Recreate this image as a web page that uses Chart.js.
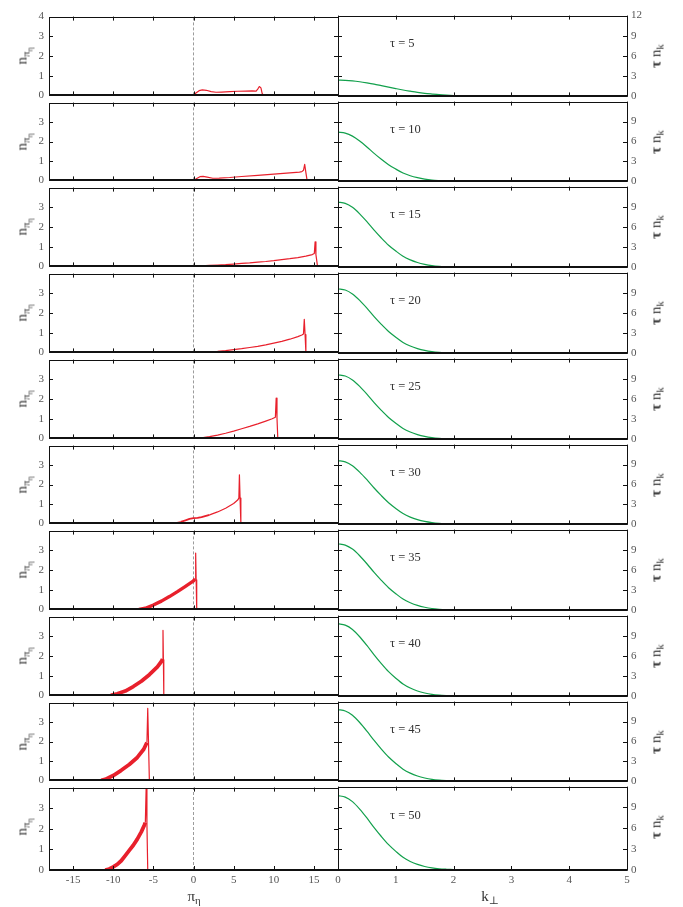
<!DOCTYPE html>
<html><head><meta charset="utf-8">
<script src="https://cdn.jsdelivr.net/npm/chart.js@4.4.0/dist/chart.umd.min.js"></script>
<style>
html,body{margin:0;padding:0;background:#fff;}
#wrap{position:relative;width:683px;height:907px;overflow:hidden;background:#fff;}
canvas{position:absolute;}
.lbl{position:absolute;font-family:"Liberation Serif","DejaVu Serif",serif;color:#333;white-space:nowrap;line-height:1;}
.rot{transform:translate(-50%,-50%) rotate(-90deg);}
.ctr{transform:translate(-50%,-50%);}
.lbl sub{font-size:72%;vertical-align:baseline;position:relative;top:0.3em;}
</style></head><body><div id="wrap"></div>
<script>
// ---------- categories / ticks ----------
const tauValues = [5, 10, 15, 20, 25, 30, 35, 40, 45, 50];
const piTicks = [-15, -10, -5, 0, 5, 10, 15];
const nTicks = [0, 1, 2, 3, 4];
const kTicks = [0, 1, 2, 3, 4, 5];
const tnTicks = [0, 3, 6, 9, 12];
const zeroLineX = 0;

// ---------- left column: n_{pi_eta} vs pi_eta (red) ----------
const pi_t5  = [0, 0.3, 0.7, 1.1, 1.6, 2.2, 2.8, 3.5, 4.5, 5.5, 6.5, 7.3, 7.8, 8.0, 8.2, 8.4, 8.55, 8.7];
const n_t5   = [0, 0.12, 0.24, 0.28, 0.26, 0.19, 0.16, 0.17, 0.19, 0.21, 0.22, 0.23, 0.22, 0.32, 0.45, 0.38, 0.1, 0];
const pi_t10 = [0, 0.4, 0.8, 1.2, 1.7, 2.4, 3.2, 4.5, 6, 8, 10, 12, 13.2, 13.5, 13.7, 13.85, 14.0, 14.15];
const n_t10  = [0, 0.1, 0.19, 0.21, 0.17, 0.11, 0.12, 0.15, 0.2, 0.26, 0.32, 0.39, 0.43, 0.45, 0.52, 0.82, 0.4, 0];
const pi_t15 = [0, 1, 2, 3, 4, 5, 6, 7, 8, 9, 10, 11, 12, 13, 14, 14.8, 15.05, 15.15, 15.25, 15.45];
const n_t15  = [0, 0.03, 0.05, 0.07, 0.09, 0.12, 0.15, 0.18, 0.22, 0.25, 0.29, 0.34, 0.39, 0.45, 0.52, 0.6, 0.66, 1.25, 0.6, 0];
const pi_t20 = [1, 2, 3, 4, 5, 6, 7, 8, 9, 10, 11, 12, 13, 13.5, 13.7, 13.8, 13.9, 14.0];
const n_t20  = [0, 0.02, 0.05, 0.09, 0.14, 0.19, 0.25, 0.31, 0.38, 0.47, 0.56, 0.67, 0.8, 0.88, 0.93, 1.68, 0.9, 0];
const pi_t25 = [0, 1, 2, 3, 4, 5, 6, 7, 8, 9, 9.8, 10.2, 10.3, 10.4, 10.5];
const n_t25  = [0, 0.03, 0.09, 0.17, 0.26, 0.37, 0.49, 0.61, 0.74, 0.88, 1.0, 1.07, 2.05, 1.05, 0];
const pi_t30 = [-2.8, -2.2, -1.6, -1.0, -0.5, 0, 0.5, 1, 2, 3, 4, 5, 5.5, 5.65, 5.72, 5.8, 5.9];
const n_t30  = [0, 0.03, 0.08, 0.16, 0.23, 0.27, 0.28, 0.32, 0.44, 0.59, 0.78, 1.02, 1.2, 1.3, 2.5, 1.3, 0];
const pi_t35 = [-6.8, -6, -5, -4, -3, -2, -1, 0, 0.2, 0.27, 0.33, 0.4];
const n_t35  = [0, 0.06, 0.22, 0.42, 0.65, 0.9, 1.17, 1.45, 1.55, 2.86, 1.5, 0];
const pi_t40 = [-10.3, -9.5, -8.5, -7.5, -6.5, -5.5, -4.5, -4.0, -3.85, -3.8, -3.75, -3.7, -2, 0, 0.05];
const n_t40  = [0, 0.08, 0.22, 0.45, 0.72, 1.05, 1.45, 1.72, 1.85, 3.3, 1.8, 0.05, 0.04, 0.03, 0];
const pi_t45 = [-11.5, -11, -10, -9, -8, -7, -6.2, -5.8, -5.7, -5.6, -5.5, -3, -0.5];
const n_t45  = [0, 0.05, 0.25, 0.52, 0.82, 1.18, 1.6, 1.95, 3.7, 1.9, 0.04, 0.02, 0];
const pi_t50 = [-11, -10.5, -10, -9.5, -9, -8.5, -8, -7.5, -7, -6.5, -6.1, -6.0, -5.9, -5.8, -5.7, -4, -3.5];
const n_t50  = [0, 0.05, 0.15, 0.27, 0.45, 0.7, 0.95, 1.2, 1.5, 1.85, 2.2, 2.3, 3.95, 2.2, 0.03, 0.02, 0];

// ---------- right column: tau n_k vs k_perp (green) ----------
const kPerp = [0, 0.125, 0.25, 0.375, 0.5, 0.625, 0.75, 0.875, 1, 1.125, 1.25, 1.375, 1.5, 1.625, 1.75, 1.875, 2, 2.125, 2.25, 2.375, 2.5, 3, 4, 5];
const tn_t5  = [2.42, 2.39, 2.31, 2.18, 2.01, 1.82, 1.60, 1.38, 1.16, 0.95, 0.77, 0.60, 0.46, 0.35, 0.25, 0.18, 0.13, 0.09, 0.06, 0.04, 0.02, 0, 0, 0];
const tn_t10 = [7.40, 7.25, 6.81, 6.07, 5.18, 4.22, 3.33, 2.52, 1.85, 1.26, 0.85, 0.56, 0.35, 0.21, 0.13, 0.07, 0.04, 0.02, 0.01, 0.01, 0, 0, 0, 0];
const tn_t15 = [9.70, 9.51, 8.92, 7.95, 6.79, 5.53, 4.37, 3.30, 2.43, 1.65, 1.12, 0.73, 0.46, 0.27, 0.16, 0.10, 0.06, 0.03, 0.02, 0.01, 0, 0, 0, 0];
const tn_t20 = [9.60, 9.41, 8.83, 7.87, 6.72, 5.47, 4.32, 3.26, 2.40, 1.63, 1.10, 0.72, 0.45, 0.27, 0.16, 0.10, 0.06, 0.03, 0.02, 0.01, 0, 0, 0, 0];
const tn_t25 = [9.60, 9.41, 8.83, 7.87, 6.72, 5.47, 4.32, 3.26, 2.40, 1.63, 1.10, 0.72, 0.45, 0.27, 0.16, 0.10, 0.06, 0.03, 0.02, 0.01, 0, 0, 0, 0];
const tn_t30 = [9.60, 9.41, 8.83, 7.87, 6.72, 5.47, 4.32, 3.26, 2.40, 1.63, 1.10, 0.72, 0.45, 0.27, 0.16, 0.10, 0.06, 0.03, 0.02, 0.01, 0, 0, 0, 0];
const tn_t35 = [9.90, 9.70, 9.11, 8.12, 6.93, 5.64, 4.46, 3.37, 2.48, 1.68, 1.14, 0.74, 0.47, 0.28, 0.17, 0.10, 0.06, 0.03, 0.02, 0.01, 0, 0, 0, 0];
const tn_t40 = [10.80, 10.58, 9.94, 8.86, 7.56, 6.16, 4.86, 3.67, 2.70, 1.84, 1.24, 0.81, 0.51, 0.30, 0.18, 0.11, 0.06, 0.03, 0.02, 0.01, 0, 0, 0, 0];
const tn_t45 = [10.80, 10.58, 9.94, 8.86, 7.56, 6.16, 4.86, 3.67, 2.70, 1.84, 1.24, 0.81, 0.51, 0.30, 0.18, 0.11, 0.06, 0.03, 0.02, 0.01, 0, 0, 0, 0];
const tn_t50 = [10.70, 10.49, 9.84, 8.77, 7.49, 6.10, 4.82, 3.64, 2.68, 1.82, 1.23, 0.80, 0.50, 0.30, 0.18, 0.11, 0.06, 0.03, 0.02, 0.01, 0, 0, 0, 0];

const leftX = [pi_t5, pi_t10, pi_t15, pi_t20, pi_t25, pi_t30, pi_t35, pi_t40, pi_t45, pi_t50];
const leftY = [n_t5, n_t10, n_t15, n_t20, n_t25, n_t30, n_t35, n_t40, n_t45, n_t50];
const rightY = [tn_t5, tn_t10, tn_t15, tn_t20, tn_t25, tn_t30, tn_t35, tn_t40, tn_t45, tn_t50];

// ---------- styling / layout ----------
const RED = '#e8202c', GREEN = '#12a04c';
const SERIF = '"Liberation Serif","DejaVu Serif",serif';
const tickFont = {family: SERIF, size: 11};
const tickColor = '#555';
const noisyWidth = [1.2, 1.2, 1.2, 1.2, 1.2, 1.8, 3.4, 3.8, 3.8, 3.8];
const noisyEnd = [0, 0, 0, 0, 0, 8, 8, 8, 7, 11];
const wrap = document.getElementById('wrap');
const TOP = 13, ROWH = 85.7, PAD = 8;
const rowTop = i => Math.round(TOP + i * ROWH);

const framePlugin = {
  id: 'frame',
  afterDatasetsDraw(chart, args, opts) {
    const {ctx, chartArea: a, scales} = chart;
    const xs = scales.x, ys = scales.y;
    ctx.save();
    ctx.strokeStyle = '#111';
    ctx.lineWidth = 1;
    ctx.beginPath();
    const L = 4;
    xs.ticks.forEach(t => {
      const px = Math.round(xs.getPixelForValue(t.value)) + 0.5;
      ctx.moveTo(px, a.bottom); ctx.lineTo(px, a.bottom - L);
      ctx.moveTo(px, a.top); ctx.lineTo(px, a.top + L);
    });
    ys.ticks.forEach(t => {
      const py = Math.round(ys.getPixelForValue(t.value)) + 0.5;
      ctx.moveTo(a.left, py); ctx.lineTo(a.left + L, py);
      ctx.moveTo(a.right, py); ctx.lineTo(a.right - L, py);
    });
    ctx.stroke();
    ctx.beginPath();
    ctx.rect(Math.round(a.left) + 0.5, Math.round(a.top) + 0.5, Math.round(a.right) - Math.round(a.left), Math.round(a.bottom) - Math.round(a.top));
    ctx.stroke();
    ctx.lineWidth = 2;
    ctx.beginPath();
    ctx.moveTo(a.left, Math.round(a.bottom));
    ctx.lineTo(a.right, Math.round(a.bottom));
    ctx.stroke();
    if (opts && opts.label) {
      ctx.fillStyle = '#333';
      ctx.font = '12.5px ' + SERIF;
      ctx.textAlign = 'left';
      ctx.textBaseline = 'middle';
      ctx.fillText(opts.label, xs.getPixelForValue(opts.lx), ys.getPixelForValue(opts.ly));
    }
    ctx.restore();
  }
};

function makeCanvas(left, top, w, h) {
  const c = document.createElement('canvas');
  c.width = w; c.height = h;
  c.style.left = left + 'px'; c.style.top = top + 'px';
  c.style.width = w + 'px'; c.style.height = h + 'px';
  wrap.appendChild(c);
  return c;
}

function addLabel(html, x, y, size, cls) {
  const d = document.createElement('div');
  d.className = 'lbl ' + cls;
  d.style.left = x + 'px'; d.style.top = y + 'px';
  d.style.fontSize = size + 'px';
  d.innerHTML = html;
  wrap.appendChild(d);
}

const baseOpts = () => ({
  animation: false, responsive: false, maintainAspectRatio: false, devicePixelRatio: 1,
  events: [],
  plugins: {legend: {display: false}, tooltip: {enabled: false}},
});

tauValues.forEach((tau, i) => {
  const last = i === tauValues.length - 1;
  const t0 = rowTop(i), t1 = rowTop(i + 1);
  const h = (t1 - t0) + PAD + (last ? 30 : PAD);

  // ---- left panel ----
  const lc = makeCanvas(0, t0 - PAD, 345, h);
  const lo = baseOpts();
  lo.layout = {padding: {top: PAD, right: 7, bottom: last ? 0 : PAD, left: 0}};
  lo.scales = {
    x: {type: 'linear', min: -18, max: 18,
      afterBuildTicks: s => { s.ticks = piTicks.map(v => ({value: v})); },
      grid: {display: false, drawTicks: false}, border: {display: false},
      ticks: {display: last, color: tickColor, font: tickFont, padding: 4},
      afterFit: s => { s.height = last ? 30 : 0; }},
    y: {type: 'linear', min: 0, max: 4,
      afterBuildTicks: s => { s.ticks = nTicks.map(v => ({value: v})); },
      grid: {display: false, drawTicks: false}, border: {display: false},
      ticks: {color: tickColor, font: tickFont, padding: 5,
        callback: v => (i > 0 && v === 4) ? '' : String(v)},
      afterFit: s => { s.width = 49; }}
  };
  lo.plugins.frame = {};
  new Chart(lc, {
    type: 'line',
    data: {datasets: [
      {data: leftX[i].map((x, j) => ({x: x, y: leftY[i][j]})), borderColor: RED,
       borderWidth: 1.2, pointRadius: 0, tension: 0, fill: false, order: 1,
       borderJoinStyle: 'round',
       segment: {borderWidth: c => (c.p0DataIndex < noisyEnd[i] && (i !== 5 || c.p0DataIndex >= 2)) ? noisyWidth[i] : 1.2}},
      {data: [{x: zeroLineX, y: 0}, {x: zeroLineX, y: 4}], borderColor: '#9c9c9c',
       borderDash: [3, 2], borderWidth: 1, pointRadius: 0, fill: false, order: 2}
    ]},
    options: lo,
    plugins: [framePlugin]
  });

  // ---- right panel ----
  const rc = makeCanvas(331, t0 - PAD, 352, h);
  const ro = baseOpts();
  ro.layout = {padding: {top: PAD, right: 0, bottom: last ? 0 : PAD, left: 7}};
  ro.scales = {
    x: {type: 'linear', min: 0, max: 5,
      afterBuildTicks: s => { s.ticks = kTicks.map(v => ({value: v})); },
      grid: {display: false, drawTicks: false}, border: {display: false},
      ticks: {display: last, color: tickColor, font: tickFont, padding: 4},
      afterFit: s => { s.height = last ? 30 : 0; }},
    y: {type: 'linear', position: 'right', min: 0, max: 12,
      afterBuildTicks: s => { s.ticks = tnTicks.map(v => ({value: v})); },
      grid: {display: false, drawTicks: false}, border: {display: false},
      ticks: {color: tickColor, font: tickFont, padding: 4,
        callback: v => (i > 0 && v === 12) ? '' : String(v)},
      afterFit: s => { s.width = 56; }}
  };
  ro.plugins.frame = {label: 'τ = ' + tau, lx: 0.9, ly: 7.8};
  new Chart(rc, {
    type: 'line',
    data: {datasets: [
      {data: kPerp.map((k, j) => ({x: k, y: rightY[i][j]})), borderColor: GREEN,
       borderWidth: 1.2, pointRadius: 0, tension: 0.3, fill: false}
    ]},
    options: ro,
    plugins: [framePlugin]
  });

  const mid = (t0 + t1) / 2;
  addLabel('n<sub>π<sub>η</sub></sub>', 22, mid, 15, 'rot');
  addLabel('<b>τ</b> n<sub>k</sub>', 656, mid, 15, 'rot');
});

addLabel('π<sub>η</sub>', 194, 896, 15, 'ctr');
addLabel('k<sub>⊥</sub>', 490, 896, 15, 'ctr');
</script>
</body></html>
